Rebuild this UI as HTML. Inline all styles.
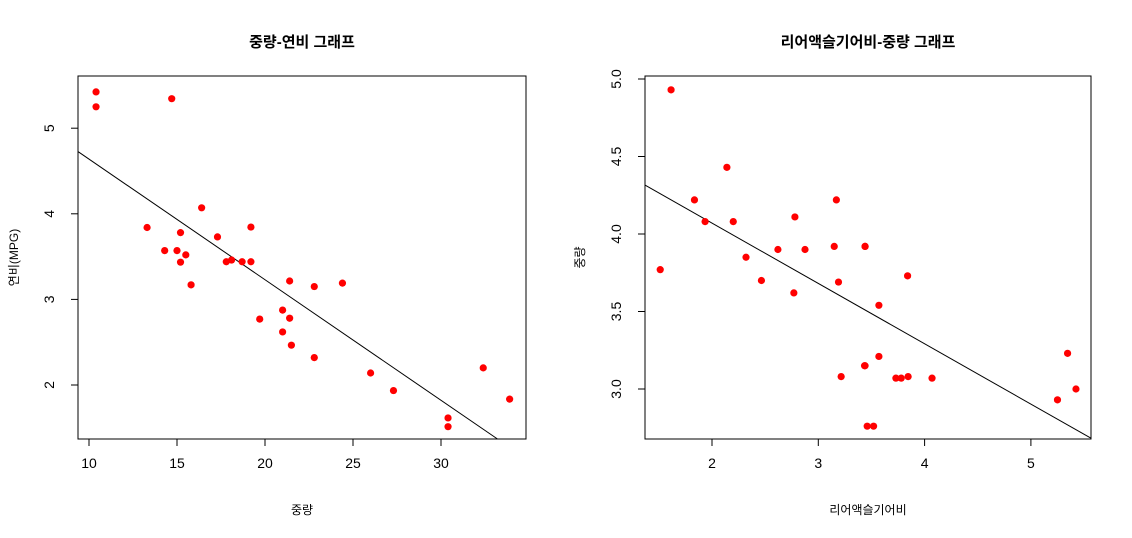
<!DOCTYPE html>
<html><head><meta charset="utf-8"><style>
html,body{margin:0;background:#fff;overflow:hidden;width:1132px;height:538px}
svg{display:block}
svg text{font-family:"Liberation Sans","Noto Sans CJK KR",sans-serif;fill:#000}
</style></head><body>
<svg id="c" width="1132" height="538"></svg>
<script>
const mpg=[21.0,21.0,22.8,21.4,18.7,18.1,14.3,24.4,22.8,19.2,17.8,16.4,17.3,15.2,10.4,10.4,14.7,32.4,30.4,33.9,21.5,15.5,15.2,13.3,19.2,27.3,26.0,30.4,15.8,19.7,15.0,21.4];
const wt=[2.620,2.875,2.320,3.215,3.440,3.460,3.570,3.190,3.150,3.440,3.440,4.070,3.730,3.780,5.250,5.424,5.345,2.200,1.615,1.835,2.465,3.520,3.435,3.840,3.845,1.935,2.140,1.513,3.170,2.770,3.570,2.780];
const drat=[3.90,3.90,3.85,3.08,3.15,2.76,3.21,3.69,3.92,3.92,3.92,3.07,3.07,3.07,2.93,3.00,3.23,4.08,4.93,4.22,3.70,2.76,3.15,3.73,3.08,4.08,4.43,3.77,4.22,3.62,3.54,4.11];
const leftXTicks=[10,15,20,25,30],leftYTicks=[2,3,4,5];
const rightXTicks=[2,3,4,5],rightYTicks=["3.0","3.5","4.0","4.5","5.0"];
const NS="http://www.w3.org/2000/svg",svg=document.getElementById('c');
function mk(t,a,p){const e=document.createElementNS(NS,t);for(const k in a)e.setAttribute(k,a[k]);(p||svg).appendChild(e);return e;}
function lm(x,y){const n=x.length,mx=x.reduce((a,b)=>a+b)/n,my=y.reduce((a,b)=>a+b)/n;let sxy=0,sxx=0;for(let i=0;i<n;i++){sxy+=(x[i]-mx)*(y[i]-my);sxx+=(x[i]-mx)**2;}const b=sxy/sxx;return [my-b*mx,b];}
function panel(id,box,xs,ys,X,Y,xt,yt,title,xl,yl,ylx,ytx){
 const sx=v=>xs[0]+(v-xs[1])*xs[2], sy=v=>ys[0]-(v-ys[1])*ys[2];
 const g=mk('g',{});
 const fr=mk('rect',{x:box[0],y:box[1],width:box[2]-box[0],height:box[3]-box[1],fill:'none',stroke:'#000'},g);
 
 xt.forEach(v=>{const px=sx(+v);mk('line',{x1:px,x2:px,y1:box[3],y2:box[3]+7,stroke:'#000'},g);
  const t=mk('text',{x:px,y:box[3]+29,'text-anchor':'middle','font-size':14},g);t.textContent=v;
  });
 yt.forEach(v=>{const py=sy(+v);mk('line',{x1:box[0],x2:box[0]-7,y1:py,y2:py,stroke:'#000'},g);
  const t=mk('text',{x:ytx,y:py,'text-anchor':'middle','font-size':14,transform:`rotate(-90 ${ytx} ${py})`},g);t.textContent=v;
  });
 const [a,b]=lm(X,Y);
 // clip the line to the box analytically
 const ix=px=>xs[1]+(px-xs[0])/xs[2];
 const iy=py=>ys[1]+(ys[0]-py)/ys[2];
 let xa=ix(box[0]),xb=ix(box[2]);
 const yTop=iy(box[1]),yBot=iy(box[3]);
 const xAtTop=(yTop-a)/b,xAtBot=(yBot-a)/b;
 const lo=Math.min(xAtTop,xAtBot),hi=Math.max(xAtTop,xAtBot);
 xa=Math.max(xa,lo);xb=Math.min(xb,hi);
 const ln=mk('line',{x1:sx(xa),y1:sy(a+b*xa),x2:sx(xb),y2:sy(a+b*xb),stroke:'#000','stroke-width':1},g);
 
 X.forEach((v,i)=>{const c=mk('circle',{cx:sx(v),cy:sy(Y[i]),r:3.6,fill:'#f00'},g);
  });
 const cx=(box[0]+box[2])/2;
 let t=mk('text',{x:cx,y:47,'text-anchor':'middle','font-size':15,'font-weight':'bold'},g);t.textContent=title;
 
 t=mk('text',{x:cx,y:514,'text-anchor':'middle','font-size':12},g);t.textContent=xl;
 
 const cy=(box[1]+box[3])/2;
 t=mk('text',{x:ylx,y:cy,'text-anchor':'middle','font-size':12,transform:`rotate(-90 ${ylx} ${cy})`},g);t.textContent=yl;
 
}
panel('left',[78,76,526,439],[89,10,17.6],[385,2,85.6],mpg,wt,leftXTicks,leftYTicks,'중량-연비 그래프','중량','연비(MPG)',18,54);
panel('right',[645,76,1091,439],[712,2,106.3],[389,3,155],wt,drat,rightXTicks,rightYTicks,'리어액슬기어비-중량 그래프','리어액슬기어비','중량',584,621);
</script>
</body></html>
